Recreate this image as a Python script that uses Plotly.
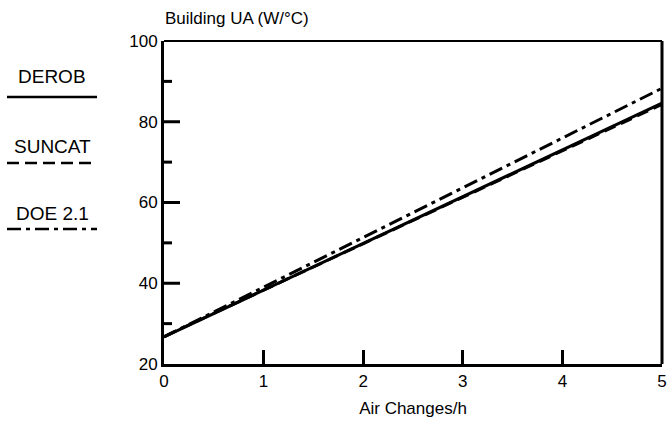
import plotly.graph_objects as go

# Air change rate (1/h) at the ends of each computed line
air_changes = [0, 5]

# Building UA (W/°C) predicted by each program
derob_ua = [26.7, 84.6]
suncat_ua = [26.8, 84.3]
doe21_ua = [26.7, 88.3]

series_names = ["DEROB", "SUNCAT", "DOE 2.1"]

# y-axis labels and tick marks
y_labels = [20, 40, 60, 80, 100]
y_long_ticks = [40, 60, 80]
y_short_ticks = [30, 50, 70, 90]

FONT = "Liberation Sans, Arial, Helvetica, sans-serif"
INK = "black"
MARGIN_L, MARGIN_R = 164, 5
PLOT_W = 667 - MARGIN_L - MARGIN_R  # plot area width in px, sizes the y tick marks

dash_styles = ["solid", "12px,6px", "14px,5px,4px,5px"]
series_values = [derob_ua, suncat_ua, doe21_ua]

fig = go.Figure()
for name, vals, dash in zip(series_names, series_values, dash_styles):
    fig.add_trace(go.Scatter(
        x=air_changes, y=vals, mode="lines", name=name,
        line=dict(color=INK, width=3, dash=dash),
        showlegend=False,
    ))

fig.update_xaxes(
    range=[0, 5], tickmode="linear", tick0=0, dtick=1,
    ticks="inside", ticklen=14, tickwidth=3, tickcolor=INK,
    showline=True, linewidth=3, linecolor=INK,
    showgrid=False, zeroline=False, automargin=False,
    ticklabeloverflow="allow",
    tickfont=dict(family=FONT, size=17, color=INK),
    title=dict(text="Air Changes/h", font=dict(family=FONT, size=17, color=INK), standoff=12),
)
fig.update_yaxes(
    range=[20, 100], tickmode="array", tickvals=y_labels, ticks="",
    showline=True, linewidth=3, linecolor=INK,
    showgrid=False, zeroline=False, automargin=False,
    tickfont=dict(family=FONT, size=17, color=INK),
)

# inward tick marks on the y axis: long on labelled values, short in between
for v in y_long_ticks:
    fig.add_shape(type="line", xref="paper", yref="y", x0=0, x1=16 / PLOT_W, y0=v, y1=v,
                  line=dict(color=INK, width=3))
for v in y_short_ticks:
    fig.add_shape(type="line", xref="paper", yref="y", x0=0, x1=8 / PLOT_W, y0=v, y1=v,
                  line=dict(color=INK, width=3))

# right and top edges of the plot frame
fig.add_shape(type="line", xref="paper", yref="paper", x0=1, x1=1, y0=0, y1=1,
              line=dict(color=INK, width=3))
fig.add_shape(type="line", xref="paper", yref="paper", x0=0, x1=1, y0=1, y1=1,
              line=dict(color=INK, width=2))

# y-axis title sits above the axis, left aligned
fig.add_annotation(text="Building UA (W/°C)", xref="paper", yref="paper",
                   x=-0.002, y=1.07, xanchor="left", yanchor="middle", showarrow=False,
                   font=dict(family=FONT, size=17, color=INK))

# key on the left: label above a sample of each line style
key_text_x = (52 - MARGIN_L) / PLOT_W
key_line_x = ((7 - MARGIN_L) / PLOT_W, (97 - MARGIN_L) / PLOT_W)
key_text_y = [0.889, 0.672, 0.467]
key_line_y = [0.827, 0.622, 0.418]
for name, dash, ty, ly in zip(series_names, dash_styles, key_text_y, key_line_y):
    fig.add_annotation(text=name, xref="paper", yref="paper", x=key_text_x, y=ty,
                       xanchor="center", yanchor="middle", showarrow=False,
                       font=dict(family=FONT, size=19, color=INK))
    fig.add_shape(type="line", xref="paper", yref="paper",
                  x0=key_line_x[0], x1=key_line_x[1], y0=ly, y1=ly,
                  line=dict(color=INK, width=2.5, dash=dash))

fig.update_layout(
    width=667, height=421,
    margin=dict(l=MARGIN_L, r=MARGIN_R, t=41, b=57),
    plot_bgcolor="white", paper_bgcolor="white",
    font=dict(family=FONT, color=INK),
)

fig.write_html("out.html")
